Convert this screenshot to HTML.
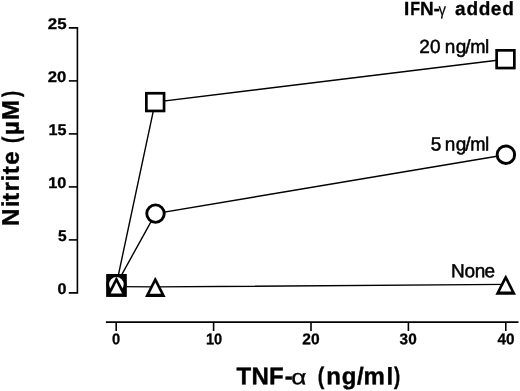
<!DOCTYPE html><html><head><meta charset="utf-8"><title>TNF-α / IFN-γ nitrite chart</title>
<style>html,body{margin:0;padding:0;background:#fff}svg{display:block}text{font-family:"Liberation Sans",sans-serif;fill:#000;white-space:pre;text-rendering:geometricPrecision}</style></head><body>
<svg width="520" height="391" viewBox="0 0 520 391">
<rect width="520" height="391" fill="#fff"/>
<g stroke="#000" stroke-width="1.6" fill="none" stroke-linecap="butt">
<path d="M68.8 27.9H77.4V292.9H68.8"/>
<path d="M68.8 239.9H77.4"/>
<path d="M68.8 186.9H77.4"/>
<path d="M68.8 133.9H77.4"/>
<path d="M68.8 80.9H77.4"/>
<path d="M105.9 322.15H518.5"/>
<path d="M116.2 322.15V331.0"/>
<path d="M213.6 322.15V331.0"/>
<path d="M311.0 322.15V331.0"/>
<path d="M408.4 322.15V331.0"/>
<path d="M505.8 322.15V331.0"/>
</g>
<g stroke="#000" stroke-width="1.4" fill="none">
<polyline points="116.4,284.3 155.2,102.1 505.5,59.2"/>
<polyline points="116.4,284.3 155.5,213.6 505.9,154.7"/>
<polyline points="116.4,286.6 155.3,286.9 505.7,284.4"/>
</g>
<g stroke="#000" fill="#fff" stroke-linejoin="miter">
<rect x="106.15" y="274.0" width="20.65" height="22.7" fill="#000" stroke="none"/>
<circle cx="116.40" cy="284.30" r="8.75" stroke-width="2.9"/>
<path d="M106.10 296.85H126.70L116.80 277.35H116.00Z" fill="#000" stroke="none"/><path d="M110.70 293.60H122.10L116.40 282.35Z" fill="#fff" stroke="none"/>
<rect x="146.35" y="93.25" width="17.70" height="17.70" stroke-width="2.7"/>
<rect x="496.65" y="50.35" width="17.70" height="17.70" stroke-width="2.7"/>
<circle cx="155.50" cy="213.60" r="8.75" stroke-width="2.9"/>
<circle cx="505.90" cy="154.70" r="8.75" stroke-width="2.9"/>
<path d="M145.00 297.10H165.60L155.70 277.60H154.90Z" fill="#000" stroke="none"/><path d="M149.60 293.85H161.00L155.30 282.60Z" fill="#fff" stroke="none"/>
<path d="M495.40 294.65H516.00L506.10 275.15H505.30Z" fill="#000" stroke="none"/><path d="M500.00 291.40H511.40L505.70 280.15Z" fill="#fff" stroke="none"/>
</g>
<text transform="rotate(0.03 47.8 29.0)" y="29.0"><tspan x="47.82" textLength="18.75" lengthAdjust="spacingAndGlyphs" font-size="15.5" font-weight="bold" stroke="#000" stroke-width="0.3">25</tspan></text>
<text transform="rotate(0.03 47.8 82.0)" y="82.0"><tspan x="47.83" textLength="18.49" lengthAdjust="spacingAndGlyphs" font-size="15.5" font-weight="bold" stroke="#000" stroke-width="0.3">20</tspan></text>
<text transform="rotate(0.03 48.5 135.0)" y="135.0"><tspan x="48.54" textLength="18.02" lengthAdjust="spacingAndGlyphs" font-size="15.5" font-weight="bold" stroke="#000" stroke-width="0.3">15</tspan></text>
<text transform="rotate(0.03 48.3 188.0)" y="188.0"><tspan x="48.33" textLength="18.07" lengthAdjust="spacingAndGlyphs" font-size="15.5" font-weight="bold" stroke="#000" stroke-width="0.3">10</tspan></text>
<text transform="rotate(0.03 57.9 241.0)" y="241.0"><tspan x="57.91" textLength="8.63" lengthAdjust="spacingAndGlyphs" font-size="15.5" font-weight="bold" stroke="#000" stroke-width="0.3">5</tspan></text>
<text transform="rotate(0.03 57.5 294.0)" y="294.0"><tspan x="57.45" textLength="8.96" lengthAdjust="spacingAndGlyphs" font-size="15.5" font-weight="bold" stroke="#000" stroke-width="0.3">0</tspan></text>
<text transform="rotate(0.03 112.1 344.2)" y="344.2"><tspan x="112.09" textLength="8.15" lengthAdjust="spacingAndGlyphs" font-size="15.5" font-weight="bold" stroke="#000" stroke-width="0.3">0</tspan></text>
<text transform="rotate(0.03 205.9 344.2)" y="344.2"><tspan x="205.89" textLength="16.26" lengthAdjust="spacingAndGlyphs" font-size="15.5" font-weight="bold" stroke="#000" stroke-width="0.3">10</tspan></text>
<text transform="rotate(0.03 302.4 344.2)" y="344.2"><tspan x="302.36" textLength="17.32" lengthAdjust="spacingAndGlyphs" font-size="15.5" font-weight="bold" stroke="#000" stroke-width="0.3">20</tspan></text>
<text transform="rotate(0.03 399.6 344.2)" y="344.2"><tspan x="399.61" textLength="17.06" lengthAdjust="spacingAndGlyphs" font-size="15.5" font-weight="bold" stroke="#000" stroke-width="0.3">30</tspan></text>
<text transform="rotate(0.03 497.4 344.2)" y="344.2"><tspan x="497.45" textLength="17.02" lengthAdjust="spacingAndGlyphs" font-size="15.5" font-weight="bold" stroke="#000" stroke-width="0.3">40</tspan></text>
<text transform="rotate(0.03 236.6 384.3)" y="384.3"><tspan x="236.60 251.40 269.00 284.75" font-size="24" font-weight="bold" stroke="#000" stroke-width="0.4">TNF-</tspan><tspan x="291.21" textLength="15.13" lengthAdjust="spacingAndGlyphs" font-size="21" font-weight="normal" stroke="#000" stroke-width="0.35">α</tspan><tspan x="312.00" font-size="24" font-weight="bold" stroke="none"> </tspan><tspan x="317.68" textLength="6.51" lengthAdjust="spacingAndGlyphs" font-size="24" font-weight="bold" stroke="#000" stroke-width="0.4">(</tspan><tspan x="326.30 341.65 357.05 363.60 386.50" font-size="24" font-weight="bold" stroke="#000" stroke-width="0.4">ng/ml</tspan><tspan x="394.10" textLength="6.17" lengthAdjust="spacingAndGlyphs" font-size="24" font-weight="bold" stroke="#000" stroke-width="0.4">)</tspan></text>
<text transform="translate(18.7 0) rotate(-90.03)" y="0"><tspan x="-226.00 -207.20 -201.00 -191.60 -181.40 -174.30 -164.85" font-size="24" font-weight="bold" stroke="#000" stroke-width="0.4">Nitrite</tspan><tspan x="-150.00" font-size="24" font-weight="bold" stroke="none"> </tspan><tspan x="-143.10" textLength="6.39" lengthAdjust="spacingAndGlyphs" font-size="24" font-weight="bold" stroke="#000" stroke-width="0.4">(</tspan><tspan x="-135.00 -120.10" font-size="24" font-weight="bold" stroke="#000" stroke-width="0.4">µM</tspan><tspan x="-96.90" textLength="6.06" lengthAdjust="spacingAndGlyphs" font-size="24" font-weight="bold" stroke="#000" stroke-width="0.4">)</tspan></text>
<text transform="rotate(0.03 404.0 14.9)" y="14.9"><tspan x="403.96" font-size="19" font-weight="bold" stroke="#000" stroke-width="0.3">I</tspan><tspan x="410.30" textLength="9.77" lengthAdjust="spacingAndGlyphs" font-size="19" font-weight="bold" stroke="#000" stroke-width="0.3">F</tspan><tspan x="420.11 433.46" font-size="19" font-weight="bold" stroke="#000" stroke-width="0.3">N-</tspan><tspan x="438.57" textLength="7.55" lengthAdjust="spacingAndGlyphs" font-size="16.5" font-weight="normal" stroke="#000" stroke-width="0.15">γ</tspan><tspan x="450.15 454.95 466.56 478.86 490.76 502.21" font-size="19" font-weight="bold" stroke="#000" stroke-width="0.3"> added</tspan></text>
<text transform="rotate(0.03 419.4 52.9)" y="52.9"><tspan x="419.36 430.06 440.25 444.86 455.81 465.25" font-size="19" font-weight="normal" stroke="#000" stroke-width="0.5">20 ng/</tspan><tspan x="470.26" textLength="15.24" lengthAdjust="spacingAndGlyphs" font-size="19" font-weight="normal" stroke="#000" stroke-width="0.5">m</tspan><tspan x="485.06" font-size="19" font-weight="normal" stroke="#000" stroke-width="0.5">l</tspan></text>
<text transform="rotate(0.03 430.8 150.4)" y="150.4"><tspan x="430.81 440.25 444.86 455.81 465.25" font-size="19" font-weight="normal" stroke="#000" stroke-width="0.5">5 ng/</tspan><tspan x="470.26" textLength="15.24" lengthAdjust="spacingAndGlyphs" font-size="19" font-weight="normal" stroke="#000" stroke-width="0.5">m</tspan><tspan x="485.06" font-size="19" font-weight="normal" stroke="#000" stroke-width="0.5">l</tspan></text>
<text transform="rotate(0.03 451.0 277.2)" y="277.2"><tspan x="451.02 464.41 474.86 484.56" font-size="19" font-weight="normal" stroke="#000" stroke-width="0.5">None</tspan></text>
</svg></body></html>
